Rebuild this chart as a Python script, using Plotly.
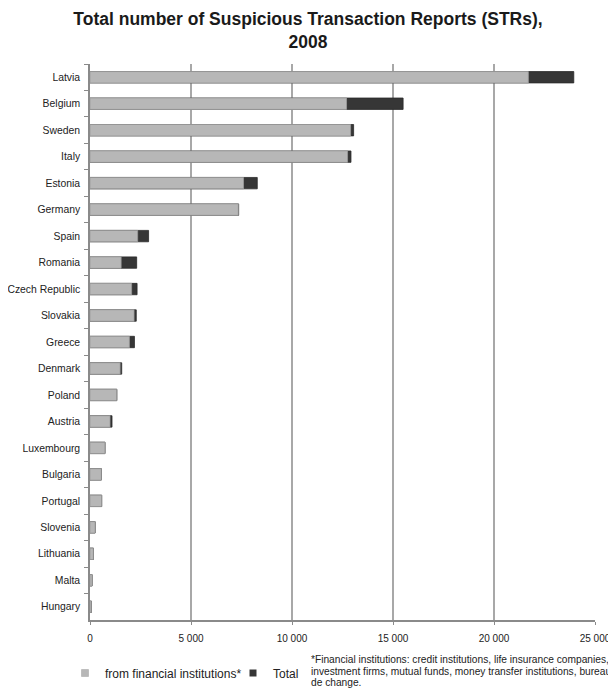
import plotly.graph_objects as go

countries = ["Latvia", "Belgium", "Sweden", "Italy", "Estonia", "Germany", "Spain",
             "Romania", "Czech Republic", "Slovakia", "Greece", "Denmark", "Poland",
             "Austria", "Luxembourg", "Bulgaria", "Portugal", "Slovenia", "Lithuania",
             "Malta", "Hungary"]
financial = [21700, 12700, 12900, 12750, 7600, 7340, 2360, 1540, 2060, 2180, 1950,
             1490, 1320, 990, 740, 560, 575, 250, 165, 100, 65]
total = [23950, 15500, 13050, 12920, 8280, 7360, 2900, 2310, 2330, 2290, 2200,
         1570, 1330, 1090, 745, 565, 580, 255, 170, 105, 70]
x_ticks = [0, 5000, 10000, 15000, 20000, 25000]
footnote_lines = [
    "*Financial institutions: credit institutions, life insurance companies,",
    "investment firms, mutual funds, money transfer institutions, bureaux",
    "de change.",
]

FONT = "Liberation Sans, Arial, sans-serif"
OFF = 8                      # page body margin offset
W, H = 616 - OFF, 689 - OFF  # figure size
# target plot area in page pixels
L, R, T, B = 90 - OFF, 595 - OFF, 64 - OFF, 620 - OFF

GRAY = "#b7b7b7"
DARK = "#363636"


def px_x(p):
    return (p - OFF - L) / (R - L)


def px_y(p):
    return (B - (p - OFF)) / (B - T)


fig = go.Figure()
fig.add_trace(go.Bar(
    y=countries, x=total, orientation="h", name="Total", showlegend=False,
    marker=dict(color=DARK, line=dict(color="#2a2a2a", width=0.8)),
))
fig.add_trace(go.Bar(
    y=countries, x=financial, orientation="h", name="from financial institutions*",
    showlegend=False,
    marker=dict(color=GRAY, line=dict(color="#9c9c9c", width=0.8)),
))
# legend entries (small square swatches as in the reference)
fig.add_trace(go.Scatter(
    x=[None], y=[None], mode="markers", name="from financial institutions*",
    marker=dict(symbol="square", size=7, color=GRAY, line=dict(color="#a0a0a0", width=0.5)),
    legend="legend",
))
fig.add_trace(go.Scatter(
    x=[None], y=[None], mode="markers", name="Total",
    marker=dict(symbol="square", size=7, color=DARK),
    legend="legend2",
))

legend_common = dict(
    orientation="h", yanchor="middle", y=px_y(673), xanchor="left",
    font=dict(family=FONT, size=12, color="#222222"),
    itemwidth=30, bgcolor="rgba(0,0,0,0)", borderwidth=0,
)

fig.update_layout(
    width=W, height=H,
    margin=dict(l=L, r=W - R, t=T, b=H - B, autoexpand=False),
    barmode="overlay", bargap=0.57,
    plot_bgcolor="white", paper_bgcolor="white",
    separators=". ",
    font=dict(family=FONT, size=10, color="#222222"),
    title=dict(
        text="Total number of Suspicious Transaction Reports (STRs),<br>2008",
        x=(308 - OFF) / W, xref="container", xanchor="center",
        y=1 - 17 / H, yref="container", yanchor="top",
        font=dict(family=FONT, size=17.5, color="#1a1a1a", weight="bold"),
    ),
    legend=dict(x=px_x(85 - 20), **legend_common),
    legend2=dict(x=px_x(253 - 20), **legend_common),
    showlegend=True,
)

fig.update_xaxes(
    range=[0, 25000], tickvals=x_ticks, tickformat=",d",
    showgrid=True, gridcolor="#a8a8a8", gridwidth=1.6,
    showline=True, linecolor="#8a8a8a", linewidth=2,
    ticks="outside", ticklen=3, tickcolor="#8a8a8a",
    ticklabelstandoff=5,
    tickfont=dict(family=FONT, size=10, color="#222222"),
    zeroline=False, fixedrange=True,
)
fig.update_yaxes(
    categoryorder="array", categoryarray=countries, autorange="reversed",
    showline=True, linecolor="#8a8a8a", linewidth=1.5,
    ticks="outside", ticklen=4, tickcolor="#8a8a8a", tickson="boundaries",
    ticklabelstandoff=6,
    tickfont=dict(family=FONT, size=10.4, color="#222222"),
    showgrid=False, fixedrange=True,
)

for i, (line, ypx) in enumerate(zip(footnote_lines, [659, 671, 682])):
    fig.add_annotation(
        text=line, xref="paper", yref="paper", x=px_x(309), y=px_y(ypx),
        xanchor="left", yanchor="middle", align="left", showarrow=False,
        font=dict(family=FONT, size=10.2, color="#222222"),
    )

fig.write_html("out.html")
